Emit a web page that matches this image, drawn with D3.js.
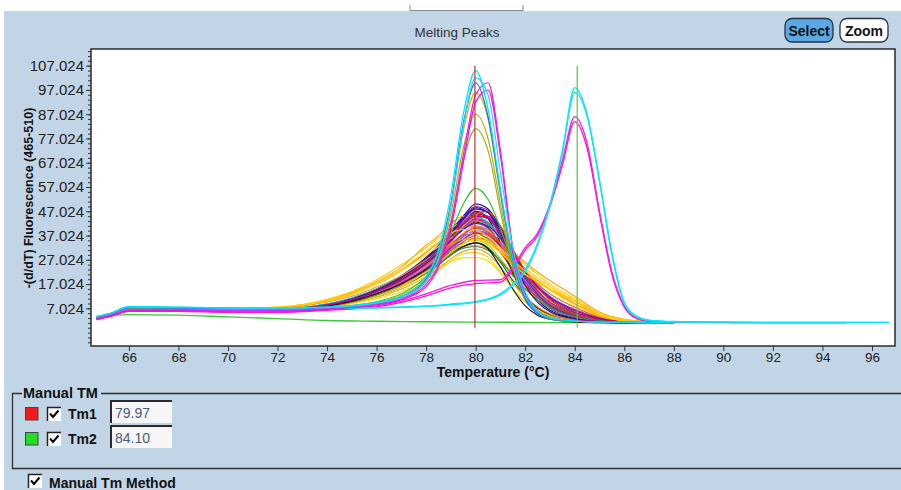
<!DOCTYPE html>
<html>
<head>
<meta charset="utf-8">
<script src="https://cdn.jsdelivr.net/npm/d3@7"></script>
<style>
  html, body { margin: 0; padding: 0; background: #ffffff; }
  svg { display: block; }
  .narrow { font-family: "Liberation Sans Narrow", "Arial Narrow", sans-serif; }
  .ui { font-family: "Liberation Sans", Arial, sans-serif; }
</style>
</head>
<body>
<svg id="chart" width="901" height="490"></svg>
<script>
// ---- axis ticks ----
const xTicks = [66, 68, 70, 72, 74, 76, 78, 80, 82, 84, 86, 88, 90, 92, 94, 96];
const yTicks = [7.024, 17.024, 27.024, 37.024, 47.024, 57.024, 67.024, 77.024, 87.024, 97.024, 107.024];

// ---- manual Tm markers ----
const tmLabels = ["Tm1", "Tm2"];
const tmValues = [79.97, 84.10];
const tmColors = ["#c0302a", "#4ccc44"];
const tmSwatch = ["#ee1c1c", "#22dd22"];

// ---- broad single-peak melts (temperature grid + samples) ----
const broadTemps = [64.7, 65.3, 66, 67, 68, 70, 72, 74, 75, 76, 77, 78, 78.5, 79, 79.5, 80, 80.5, 81, 81.5, 82, 82.5, 83, 84, 85, 86, 87, 88];
const broadColors = ["#000080", "#8000c0", "#000000", "#b00000", "#ff0000", "#ffa500", "#ffcc00", "#ff00ff",
  "#0000ff", "#008080", "#00b000", "#999900", "#ff66cc", "#f0d800", "#ffb030", "#dc143c", "#9932cc", "#3060ff",
  "#8b4513", "#9acd32", "#707070", "#006400", "#00c8c8", "#ff8c00", "#daa520", "#800000", "#b060ff", "#ff1493",
  "#ffd700", "#483d8b", "#e03000", "#2e8b57", "#4b0082", "#ffe040",
  "#ff4500", "#1e90ff", "#c71585", "#ff9900", "#101010", "#6a0dad", "#cc0066", "#ffc800"];
const broadValues = [
  [3.2,4.6,6.9,7.1,6.9,6.8,6.7,8.7,11.2,15,20.5,28,33,39,45,50,48,40,29,18,10.5,6.2,2.9,1.7,1.3,1.2,1.1],
  [3.0,4.5,6.7,7.0,6.8,6.7,6.6,8.6,11,14.8,20,27.5,32.5,38.5,44.5,49,47.5,40.5,30,19.5,12,7,3.2,1.8,1.3,1.2,1.1],
  [2.9,4.3,6.4,6.8,6.6,6.5,6.4,8.2,10.5,14,19,26,30.5,36,42,47,44,34,22,11,6,3.5,1.8,1.3,1.1,1.0,1.0],
  [3.1,4.5,6.6,6.9,6.7,6.6,6.5,8.5,10.8,14.5,19.8,27,31.5,37,42.5,46,44.5,38,29,20.5,14,9.5,4.8,2.6,1.7,1.3,1.2],
  [3.0,4.4,6.5,6.8,6.7,6.6,6.5,8.3,10.5,14,18.8,25.5,29.5,34.5,40,44,45,39.5,31,22.5,15.5,10.5,5.2,2.8,1.8,1.4,1.2],
  [3.5,5.0,7.2,7.4,7.2,7.0,7.4,10.5,13.5,18,24,33,37,42,45,44.5,41,36,30.5,26,22,18.5,12,5.5,2.5,1.6,1.3],
  [3.6,5.1,7.5,7.6,7.4,7.2,7.6,10.8,14,18.8,25,32,36,40,42.5,43,40.5,35.5,30,25,21,17,11,5,2.3,1.5,1.2],
  [2.5,4.0,6.0,6.5,6.3,6.2,6.1,8.0,10.2,13.6,18.5,25.5,30,35,40,44,42.5,36.5,28,20,13.5,9,4.5,2.4,1.6,1.3,1.1],
  [3.1,4.5,6.8,7.0,6.8,6.7,6.6,8.5,10.8,14.5,19.5,26.5,31.5,37.5,43.5,48,46.5,39.5,30,20.5,13,8,3.8,2.1,1.4,1.2,1.1],
  [3.3,4.7,6.9,7.2,7.0,6.9,6.8,8.8,11,14.5,19.5,26,30,35,39.5,42,40,34,26,19,13.5,9.5,5,2.8,1.8,1.4,1.2],
  [3.4,4.8,7.0,7.2,7.0,6.9,6.8,8.6,10.6,13.8,18.5,24.5,28.5,33,37.5,40,38.5,33,25.5,18.5,13,9.2,4.8,2.6,1.7,1.3,1.2],
  [3.2,4.6,6.7,7.0,6.8,6.7,6.7,8.6,10.6,13.8,18.5,25,29,33.5,37,38,35.5,30,23,16.5,11.5,8,4,2.3,1.5,1.2,1.1],
  [2.7,4.1,6.2,6.6,6.5,6.4,6.3,8.2,10.3,13.5,18,24.5,28.5,33.5,38,41,39.5,33.5,25.5,18.5,13,9,4.6,2.5,1.6,1.3,1.1],
  [2.8,4.2,6.0,6.5,6.3,6.2,6.0,7.5,9,11,14,19,22.5,26.5,29.5,30,28,22,15,9.5,6,3.8,2,1.4,1.2,1.1,1.0],
  [3.0,4.4,6.4,6.7,6.5,6.4,6.4,8.0,9.8,12.5,16.5,22,25.5,29.5,32,33,31.5,27,21,15.5,11,7.8,4,2.3,1.5,1.2,1.1],
  [2.9,4.3,6.4,6.8,6.6,6.5,6.4,8.3,10.5,14,19,26,30.5,35.5,40.5,43.5,42,35.5,27,19,12.8,8.5,4.2,2.3,1.5,1.2,1.1],
  [3.0,4.4,6.6,6.9,6.7,6.6,6.5,8.4,10.7,14.3,19.5,26.8,31.5,37,42.5,46.5,45,38.5,29.5,20.5,13.5,8.6,4,2.2,1.4,1.2,1.1],
  [3.3,4.7,6.9,7.1,6.9,6.8,6.7,8.5,10.4,13.4,17.8,23.8,27.5,32,36.5,39,38,32.5,25,18,12.5,8.6,4.3,2.4,1.6,1.3,1.1],
  [3.1,4.5,6.5,6.8,6.6,6.5,6.4,8.1,10,13,17,22.5,26,30,33.5,36,35,30,23,16.5,11.5,8,4,2.2,1.5,1.2,1.1],
  [3.2,4.6,6.6,6.9,6.7,6.6,6.6,8.4,10.4,13.5,17.8,23.5,27,31,34,35,33,27.5,21,15,10.5,7.2,3.6,2.1,1.4,1.2,1.1],
  [3.0,4.4,6.4,6.7,6.6,6.5,6.4,8.0,9.9,12.8,17,22.8,26.5,30.8,34.5,37,36,30.5,23,16.5,11.5,7.8,3.8,2.1,1.4,1.2,1.1],
  [2.9,4.3,6.2,6.6,6.5,6.4,6.3,7.8,9.4,12,15.8,21.5,25,29,32.5,34,32,26,18.5,12,7.5,4.6,2.2,1.4,1.2,1.1,1.0],
  [3.4,4.9,7.3,7.4,7.2,7.0,6.9,8.9,11.3,15,20,27,31.5,37,41.5,44.5,42.5,36,27.5,19.5,13.2,8.8,4.4,2.4,1.6,1.3,1.2],
  [3.4,4.9,7.1,7.3,7.1,6.9,7.2,10,12.8,17,22.5,30,34,38,40.5,41,38.5,33.5,28,23.5,19.5,16,10,4.6,2.2,1.5,1.2],
  [3.0,4.4,6.3,6.7,6.5,6.4,6.3,7.7,9.3,11.6,15,20,23.5,27.5,30.5,31.5,29.5,24,17.5,11.5,7.5,4.8,2.4,1.5,1.2,1.1,1.0],
  [3.0,4.4,6.5,6.8,6.7,6.6,6.5,8.3,10.4,13.8,18.5,25.5,30,35,39.5,42.5,40.5,32.5,21.5,12,7,4.2,2,1.3,1.1,1.0,1.0],
  [2.8,4.2,6.3,6.7,6.5,6.4,6.3,8.1,10.2,13.3,17.8,24,28,32.5,37,40.5,39.5,33.5,25.5,18.5,13,9,4.5,2.5,1.6,1.3,1.1],
  [2.6,4.0,6.0,6.4,6.3,6.2,6.1,7.9,9.9,12.9,17.2,23.2,27,31.5,35.5,38.5,37.5,32,24.5,17.5,12.3,8.5,4.3,2.4,1.6,1.3,1.1],
  [3.1,4.5,6.4,6.8,6.6,6.5,6.5,8.2,10,12.5,15.8,20.5,23.5,26.3,27.8,28,26.5,21.5,15,9.8,6.2,4,2.1,1.4,1.2,1.1,1.0],
  [3.0,4.4,6.5,6.8,6.7,6.6,6.5,8.4,10.6,14.2,19.2,26.3,31,36.3,41.8,45.5,44,37,28,19.5,12.8,8.2,3.9,2.1,1.4,1.2,1.1],
  [3.1,4.5,6.6,6.9,6.8,6.7,6.6,8.5,10.8,14.2,19,26,30.5,36,41.5,46,47,41,31.5,22,14.5,9.5,4.6,2.5,1.6,1.3,1.2],
  [3.2,4.6,6.6,6.9,6.7,6.6,6.5,8.1,9.8,12.4,16.2,21.6,25.2,29,31.8,32.5,31,26.5,20.5,15,10.5,7.2,3.6,2.1,1.4,1.2,1.1],
  [3.1,4.5,6.7,7.0,6.8,6.7,6.6,8.5,10.9,14.6,19.8,27.2,32,38,44,48.5,46.5,38,27,16.5,9.5,5.6,2.6,1.6,1.2,1.1,1.0],
  [3.6,5.1,7.4,7.6,7.4,7.2,7.6,10.2,13,17.2,22.5,29,32.5,36,38,37.5,35,31,27,23,19.5,16,10.5,4.8,2.2,1.5,1.2],
  [3.2,4.4,6.8,7.0,6.8,6.7,6.6,8.4,10.5,13.8,18.5,25,29,33.5,37.5,40,38.5,34,28,22,17,13,7.5,3.5,1.8,1.3,1.1],
  [3.1,4.3,6.7,7.0,6.8,6.7,6.6,8.4,10.6,14,19,26,30.5,35.5,40,43,41.5,36,29,22.5,16.5,12,6.5,3,1.6,1.2,1.1],
  [2.7,3.9,6.2,6.6,6.4,6.3,6.2,8.0,10,13,17.4,23.5,27.5,32,35.5,38,37,32.5,26.5,20.5,15.5,11.5,6.5,3,1.6,1.2,1.1],
  [3.4,4.6,7.1,7.3,7.1,6.9,7.1,9.6,12,15.8,20.5,27,30.5,33.5,35.5,36,34.5,30.5,26,22,18.5,15,9,4,2,1.4,1.2],
  [2.8,4.0,6.3,6.7,6.5,6.4,6.3,8.0,10,13,17.2,23,26.5,30,32.5,34,31.5,24,15,8,4.2,2.5,1.4,1.1,1.0,1.0,1.0],
  [3.0,4.2,6.6,6.9,6.7,6.6,6.5,8.3,10.5,14,18.8,25.6,30,35,39.5,42,41,36,29,22,16,11.5,6,2.8,1.6,1.2,1.1],
  [2.9,4.1,6.5,6.8,6.6,6.5,6.4,8.3,10.6,14.2,19.3,26.5,31,36.5,41.5,45,44,38,30,22.5,16,11,5.5,2.6,1.5,1.2,1.1],
  [3.5,4.7,7.3,7.5,7.3,7.1,7.5,10.3,13.2,17.5,23,30.5,34.5,38,39.5,39,36.5,32,27,22.5,18,14.5,8.5,3.8,1.9,1.4,1.2]
];

// ---- tall, sharp peaks near 80 °C ----
const sharpTemps = [64.7, 65.3, 66, 68, 70, 72, 74, 76, 77, 78, 78.5, 79, 79.5, 80, 80.5, 81, 81.5, 82, 82.5, 83, 84, 85, 86, 87, 88];
const sharpColors = ["#a8a830", "#b0b000", "#30c030", "#c0c000", "#2060ff", "#ff00e0", "#e020f0", "#30d0ff", "#00e0ff"];
const sharpValues = [
  [3.0,4.4,6.5,6.6,6.4,6.3,6.9,9,11.5,18,27,43,68,81,72,47,24,10.5,5,2.8,1.7,1.3,1.2,1.1,1.0],
  [3.1,4.5,6.6,6.7,6.5,6.4,7.0,9.3,12,19,28,46,73,87,77,50,25,11,5,2.8,1.7,1.3,1.2,1.1,1.0],
  [3.3,4.7,7.0,6.9,6.7,6.6,7.3,9.8,13,20,26,38,50,56.5,52,40,25,12,6,3.2,1.8,1.4,1.2,1.1,1.0],
  [3.2,4.6,6.8,6.8,6.6,6.5,7.2,9.5,12.5,20,30,50,80,96,85,54,26,11,5,2.8,1.7,1.3,1.2,1.1,1.0],
  [3.4,4.8,7.2,7.1,6.9,6.8,7.3,9.2,11.8,19,29,50,83,100,86,55,27,11,5,2.8,1.7,1.3,1.2,1.1,1.0],
  [2.6,4.0,6.1,6.2,6.0,5.9,6.6,8.5,10.6,16,24,40,67,92,97,70,31,12.5,5.5,3,1.8,1.4,1.2,1.1,1.0],
  [2.8,4.2,6.4,6.4,6.2,6.1,6.8,8.8,11,17,25,42,70,95,100,72,32,13,6,3.2,2,1.5,1.2,1.1,1.0],
  [3.6,5.0,7.5,7.3,7.1,7.0,7.4,9.2,11.5,18.5,28,49,82,102,95,63,32,14,6,3.2,1.8,1.4,1.2,1.1,1.1],
  [3.8,5.2,7.8,7.5,7.2,7.1,7.6,9.5,12,20,31,54,87,105,89,56,28,12,5.5,3,1.8,1.4,1.2,1.1,1.1]
];

// ---- second product peaking near 84 °C (longer runs) ----
const lateTemps = [64.7, 65.3, 66, 68, 70, 72, 74, 76, 77, 78, 79, 80, 81, 81.5, 82, 82.5, 83, 83.5, 84, 84.5, 85, 85.5, 86, 86.5, 87, 88, 90, 93, 95, 96, 96.7];
const lateColors = ["#ffd000", "#ff10d0", "#f020e0", "#20e0f0", "#00e8ff"];
const lateValues = [
  [3.3,4.7,6.8,6.9,6.8,6.7,7.2,12,16,22,30,35.5,30,25,21,18,15,12.5,10,7.5,5,3,1.8,1.4,1.3,1.2,1.1,1.1,1.1,1.1],
  [2.4,3.8,5.8,5.8,5.4,5.3,6.2,7.6,9.5,12.2,15.5,17.2,17.8,23,31,37,49,66,84,73,46,21,7.5,2.8,1.7,1.3,1.2,1.1,1.1],
  [2.6,4.0,6.1,6.0,5.6,5.5,6.5,8.0,10,13,16.5,18.5,18.8,24,32,38,50,68,86,75,47,22,8,3,1.8,1.4,1.2,1.1,1.1],
  [3.4,4.9,7.3,7.2,7.0,6.9,6.9,7.1,7.4,7.8,8.5,9.5,12.5,16.5,22,33,49,71,96,86,59,29,9,3.5,2.1,1.5,1.3,1.2,1.2,1.2,1.2],
  [3.6,5.1,7.6,7.4,7.2,7.1,7.0,7.3,7.6,8.0,8.8,9.8,13,17,23,34,50,72,98,87,60,30,9.5,3.8,2.2,1.6,1.3,1.2,1.2,1.2,1.2]
];

// ---- flat trace (no product) ----
const flatTemps = [64.7, 66, 68, 70, 72, 74, 76, 78, 80, 82, 84, 86, 88, 90.7];
const flatValues = [3.6, 4.4, 4.2, 3.5, 2.8, 2.0, 1.7, 1.5, 1.35, 1.25, 1.15, 1.1, 1.1, 1.1];

// ---- layout ----
const W = 901, H = 490;
const plot = { left: 91, top: 49, right: 895, bottom: 346 };
const svg = d3.select("#chart");

svg.append("rect").attr("x", 4).attr("y", 11).attr("width", W - 4).attr("height", H - 11).attr("fill", "#c2d5e7");
svg.append("path").attr("d", "M410,5V10.5H523V5").attr("fill", "none").attr("stroke", "#8a8a8a").attr("stroke-width", 1);

const x = d3.scaleLinear().domain([64.47, 96.93]).range([plot.left, plot.right]);
const y = d3.scaleLinear().domain([-8.5, 113.9]).range([plot.bottom, plot.top]);

// plot background
svg.append("rect")
  .attr("x", plot.left).attr("y", plot.top)
  .attr("width", plot.right - plot.left).attr("height", plot.bottom - plot.top)
  .attr("fill", "#ffffff");

// title and buttons
svg.append("text").attr("class", "narrow").attr("x", 457).attr("y", 36.5)
  .attr("text-anchor", "middle").attr("font-size", 13.5).attr("fill", "#333").text("Melting Peaks");

function button(x0, label, fill) {
  svg.append("rect").attr("x", x0).attr("y", 18.5).attr("width", 48).attr("height", 23.5)
    .attr("rx", 7).attr("fill", fill).attr("stroke", "#2a3340").attr("stroke-width", 1.3);
  svg.append("text").attr("class", "ui").attr("x", x0 + 24).attr("y", 35.5)
    .attr("text-anchor", "middle").attr("font-size", 14).attr("font-weight", "bold")
    .attr("fill", "#111").text(label);
}
button(785, "Select", "#5aa9e6");
button(840, "Zoom", "#ffffff");

// curves
const g = svg.append("g");
function drawFamily(temps, colors, values, width) {
  const line = d3.line()
    .x((d, i) => x(temps[i]))
    .y(d => y(d))
    .curve(d3.curveMonotoneX);
  g.selectAll(null).data(values).enter().append("path")
    .attr("d", d => line(d))
    .attr("fill", "none")
    .attr("stroke", (d, i) => colors[i])
    .attr("stroke-width", width)
    .attr("stroke-linejoin", "round");
}
drawFamily(flatTemps, ["#33cc33"], [flatValues], 1.3);
drawFamily(broadTemps, broadColors, broadValues, 1.1);
drawFamily(lateTemps, lateColors, lateValues, 1.3);
drawFamily(sharpTemps, sharpColors, sharpValues, 1.2);

// manual Tm lines
svg.selectAll(null).data(tmValues).enter().append("line")
  .attr("x1", d => x(d)).attr("x2", d => x(d))
  .attr("y1", y(107.024)).attr("y2", y(-1.0))
  .attr("stroke", (d, i) => tmColors[i]).attr("stroke-width", 1.2);

// frame
svg.append("rect")
  .attr("x", plot.left).attr("y", plot.top)
  .attr("width", plot.right - plot.left).attr("height", plot.bottom - plot.top)
  .attr("fill", "none").attr("stroke", "#2b2b2b").attr("stroke-width", 1.5);

// y axis
const yAxis = svg.append("g").attr("transform", `translate(${plot.left},0)`)
  .call(d3.axisLeft(y).tickValues(yTicks).tickFormat(d3.format(".3f")).tickSize(5));
svg.append("g").attr("transform", `translate(${plot.left},0)`)
  .call(d3.axisLeft(y).tickValues(d3.range(-6.976, 113.9, 2)).tickFormat("").tickSize(3))
  .call(a => a.select(".domain").remove());
yAxis.select(".domain").remove();
yAxis.selectAll("text").attr("class", "narrow").attr("font-size", 15).attr("fill", "#222").attr("dx", 1);

// x axis
const xAxis = svg.append("g").attr("transform", `translate(0,${plot.bottom})`)
  .call(d3.axisBottom(x).tickValues(xTicks).tickFormat(d3.format("d")).tickSize(5));
xAxis.select(".domain").remove();
xAxis.selectAll("text").attr("class", "narrow").attr("font-size", 13.5).attr("fill", "#222").attr("dy", "0.6em");
svg.selectAll(".tick line").attr("stroke", "#333");

// axis titles
svg.append("text").attr("class", "narrow").attr("x", 493).attr("y", 377)
  .attr("text-anchor", "middle").attr("font-size", 14).attr("font-weight", "bold")
  .attr("fill", "#111").text("Temperature (°C)");
svg.append("text").attr("class", "narrow")
  .attr("transform", "translate(33,198) rotate(-90)")
  .attr("text-anchor", "middle").attr("font-size", 12.5).attr("font-weight", "bold")
  .attr("fill", "#111").text("-(d/dT) Fluorescence (465-510)");

// Manual TM group box
svg.append("path").attr("d", "M22,393.5H12.5V468.5H901M101,393.5H901")
  .attr("fill", "none").attr("stroke", "#2f2f2f").attr("stroke-width", 1.3);
svg.append("text").attr("class", "ui").attr("x", 23).attr("y", 398)
  .attr("font-size", 14.5).attr("font-weight", "bold").attr("fill", "#111").text("Manual TM");

function checkbox(cx, cy) {
  svg.append("rect").attr("x", cx).attr("y", cy).attr("width", 14).attr("height", 14).attr("fill", "#fff");
  svg.append("path").attr("d", `M${cx + 0.5},${cy + 14}V${cy + 0.5}H${cx + 14}`)
    .attr("fill", "none").attr("stroke", "#222").attr("stroke-width", 1.5);
  svg.append("path").attr("d", `M${cx + 3},${cy + 6.5}L${cx + 6},${cy + 10}L${cx + 11.5},${cy + 3.5}`)
    .attr("fill", "none").attr("stroke", "#000").attr("stroke-width", 2);
}

const rowY = [407, 432];
tmLabels.forEach((lab, i) => {
  const ry = rowY[i];
  svg.append("rect").attr("x", 25.5).attr("y", ry + 0.5).attr("width", 12.5).attr("height", 12.5)
    .attr("fill", tmSwatch[i]).attr("stroke", "#444").attr("stroke-width", 1);
  checkbox(47, ry);
  svg.append("text").attr("class", "ui").attr("x", 68).attr("y", ry + 11.5)
    .attr("font-size", 14).attr("font-weight", "bold").attr("fill", "#111").text(lab);
  const by = ry - 7;
  svg.append("rect").attr("x", 110).attr("y", by).attr("width", 62).attr("height", 23).attr("fill", "#f6f6f6");
  svg.append("path").attr("d", `M111,${by + 23}V${by + 1}H172`)
    .attr("fill", "none").attr("stroke", "#2a2a2a").attr("stroke-width", 2);
  svg.append("text").attr("class", "ui").attr("x", 115).attr("y", ry + 11)
    .attr("font-size", 14).attr("fill", "#4d5b7c").text(tmValues[i].toFixed(2));
});

checkbox(28, 474);
svg.append("text").attr("class", "ui").attr("x", 49).attr("y", 487.5)
  .attr("font-size", 14).attr("font-weight", "bold").attr("fill", "#111").text("Manual Tm Method");
</script>
</body>
</html>
